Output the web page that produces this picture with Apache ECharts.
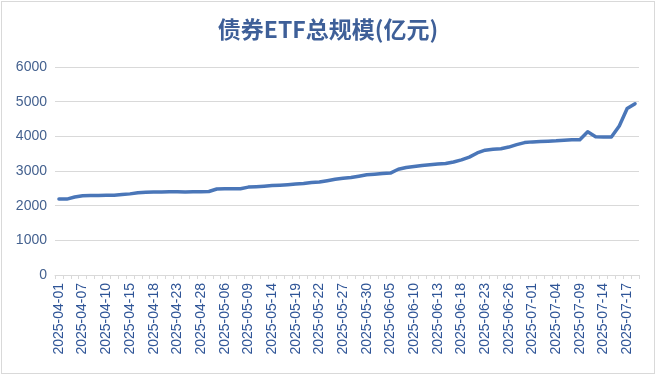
<!DOCTYPE html>
<html>
<head>
<meta charset="utf-8">
<script src="https://cdn.jsdelivr.net/npm/echarts@6/dist/echarts.min.js"></script>
<style>
  body { margin: 0; background: #fff; }
  #chart { position: absolute; left: 1px; top: 1px; width: 652px; height: 371px; border: 1px solid #d9d9d9; }
</style>
</head>
<body>
<div id="chart"></div>
<script>
// trading days, 2025-04-01 .. 2025-07-18
var dates = [
  "2025-04-01","2025-04-02","2025-04-03","2025-04-07","2025-04-08","2025-04-09","2025-04-10","2025-04-11",
  "2025-04-14","2025-04-15","2025-04-16","2025-04-17","2025-04-18","2025-04-21","2025-04-22","2025-04-23",
  "2025-04-24","2025-04-25","2025-04-28","2025-04-29","2025-04-30",
  "2025-05-06","2025-05-07","2025-05-08","2025-05-09","2025-05-12","2025-05-13","2025-05-14","2025-05-15",
  "2025-05-16","2025-05-19","2025-05-20","2025-05-21","2025-05-22","2025-05-23","2025-05-26","2025-05-27",
  "2025-05-28","2025-05-29","2025-05-30",
  "2025-06-03","2025-06-04","2025-06-05","2025-06-06","2025-06-09","2025-06-10","2025-06-11","2025-06-12",
  "2025-06-13","2025-06-16","2025-06-17","2025-06-18","2025-06-19","2025-06-20","2025-06-23","2025-06-24",
  "2025-06-25","2025-06-26","2025-06-27","2025-06-30",
  "2025-07-01","2025-07-02","2025-07-03","2025-07-04","2025-07-07","2025-07-08","2025-07-09","2025-07-10",
  "2025-07-11","2025-07-14","2025-07-15","2025-07-16","2025-07-17","2025-07-18"
];

// 债券ETF总规模 (亿元)
var totalScale = [
  2193, 2190, 2250, 2285, 2290, 2295, 2300, 2300, 2320, 2340,
  2370, 2390, 2395, 2395, 2400, 2400, 2395, 2400, 2405, 2410,
  2480, 2485, 2485, 2490, 2535, 2545, 2560, 2580, 2590, 2605,
  2625, 2640, 2670, 2680, 2720, 2760, 2790, 2810, 2850, 2890,
  2905, 2925, 2940, 3050, 3100, 3130, 3160, 3180, 3200, 3215,
  3260, 3320, 3400, 3520, 3600, 3630, 3640, 3690, 3760, 3820,
  3840, 3850, 3860, 3870, 3890, 3900, 3900, 4130, 3990, 3980,
  3980, 4300, 4800, 4940
];

var yTicks = [0, 1000, 2000, 3000, 4000, 5000, 6000];

var chart = echarts.init(document.getElementById("chart"));

var option = {
  backgroundColor: "#fff",
  animation: false,
  title: {
    text: "债券ETF总规模(亿元)",
    left: "center",
    top: 11,
    textStyle: {
      fontFamily: "Noto Sans CJK SC",
      fontSize: 23,
      fontWeight: "bold",
      color: "#3E5F98"
    }
  },
  grid: { left: 53, right: 15, top: 65, bottom: 98 },
  xAxis: {
    type: "category",
    data: dates,
    boundaryGap: true,
    axisLine: { lineStyle: { color: "#d9d9d9", width: 1 } },
    axisTick: { show: true, interval: 0, length: 4, lineStyle: { color: "#d9d9d9" } },
    axisLabel: {
      interval: 2,
      rotate: 90,
      margin: 8,
      fontFamily: "Liberation Sans",
      fontSize: 14,
      color: "#2F5597"
    }
  },
  yAxis: {
    type: "value",
    min: yTicks[0],
    max: yTicks[yTicks.length - 1],
    interval: 1000,
    axisLine: { show: false },
    axisTick: { show: false },
    splitLine: { lineStyle: { color: "#d9d9d9", width: 1 } },
    axisLabel: {
      margin: 8,
      fontFamily: "Liberation Sans",
      fontSize: 14,
      color: "#44618F",
      formatter: function (v) { return String(v); }
    }
  },
  series: [
    {
      name: "债券ETF总规模",
      type: "line",
      data: totalScale,
      showSymbol: false,
      lineStyle: { color: "#4A76B8", width: 3.5, cap: "round", join: "round" }
    }
  ]
};

chart.setOption(option);
</script>
</body>
</html>
